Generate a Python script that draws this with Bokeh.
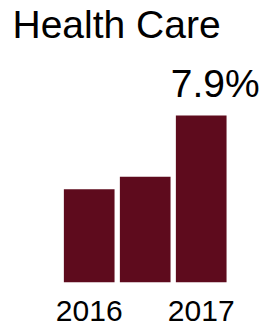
from bokeh.plotting import figure
from bokeh.models import ColumnDataSource, Label
from bokeh.core.properties import value
from bokeh.embed import file_html
from bokeh.resources import INLINE

# ---- data ----
title_text = "Health Care"
bar_pos = [0, 1, 2]
growth = [4.4, 5.0, 7.9]          # percent
tick_pos = [0, 2]
tick_labels = ["2016", "2017"]

BAR_COLOR = "#5e0b1d"
FONT = "Liberation Sans"

bars = ColumnDataSource(dict(x=bar_pos, top=growth))
ticks = ColumnDataSource(dict(x=tick_pos, y=[0] * len(tick_pos), text=tick_labels))
last = ColumnDataSource(dict(x=[bar_pos[-1]], y=[growth[-1]], text=[f"{growth[-1]}%"]))

p = figure(width=265, height=326, output_backend="svg", toolbar_location=None,
           x_range=(-1.584, 3.148), y_range=(-2.10, 13.35),
           min_border=0, outline_line_color=None)
p.axis.visible = False
p.grid.visible = False
p.background_fill_color = "white"
p.border_fill_color = "white"

p.vbar(x="x", top="top", bottom=0, width=0.905, source=bars,
       fill_color=BAR_COLOR, line_color=None)

p.text(x="x", y="y", text="text", source=last, text_font=value(FONT),
       text_font_size="39px", text_color="black", text_align="center",
       text_baseline="alphabetic", x_offset=14, y_offset=-32)

p.text(x="x", y="y", text="text", source=ticks, text_font=value(FONT),
       text_font_size="30px", text_color="black", text_align="center",
       text_baseline="alphabetic", y_offset=29)

p.add_layout(Label(x=12, y=301.7, x_units="screen", y_units="screen",
                   text=title_text, text_font=FONT, text_font_size="39px",
                   text_color="black", text_baseline="alphabetic"))

open("out.html", "w").write(file_html(p, INLINE))
